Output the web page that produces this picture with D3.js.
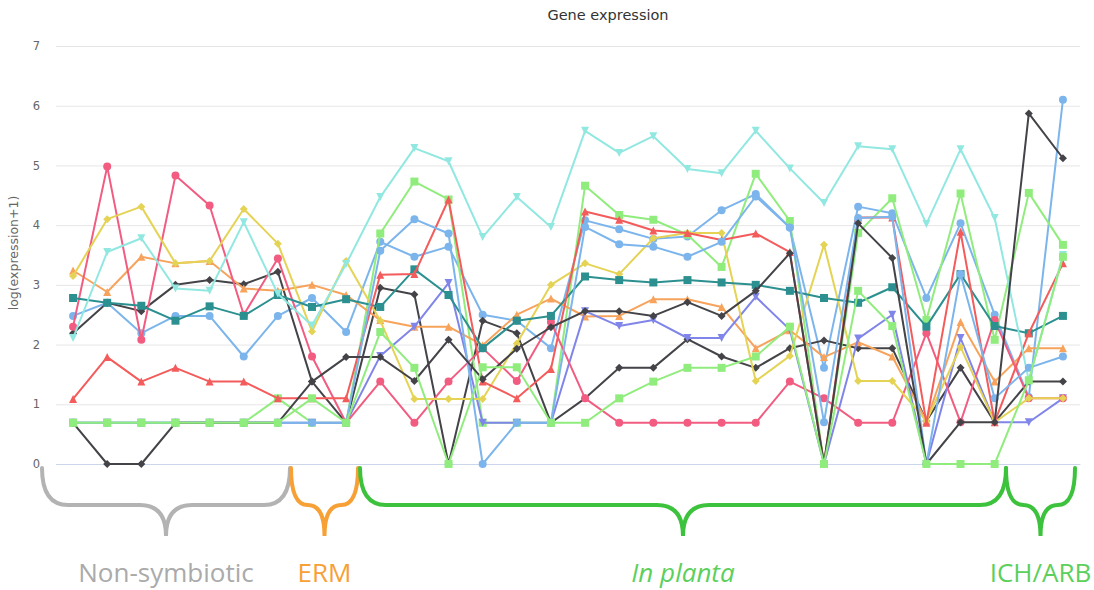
<!DOCTYPE html>
<html><head><meta charset="utf-8">
<script src="https://cdn.jsdelivr.net/npm/d3@7"></script>
<style>body{margin:0;background:#fff} svg{display:block}</style>
</head><body><svg id="c" width="1094" height="590"></svg>
<script>
const categories = d3.range(1, 31).map(i => "Sample " + i);
const yTicks = [0, 1, 2, 3, 4, 5, 6, 7];

const blue1  = [2.48,2.70,2.19,2.48,2.48,1.80,2.48,2.78,2.21,3.72,3.47,3.64,2.50,2.40,1.94,4.08,3.93,3.77,3.81,4.25,4.52,3.96,1.61,4.31,4.20,2.78,4.03,2.50,1.12,6.10];
const black1 = [2.19,2.70,2.56,3.00,3.08,3.01,3.22,1.38,0.69,2.95,2.84,0.00,2.40,2.19,0.69,1.10,1.61,1.61,2.09,1.80,1.61,1.94,2.07,1.94,1.94,0.72,1.61,0.70,1.38,1.38];
const green1 = [0.69,0.69,0.69,0.69,0.69,0.69,1.10,0.69,0.69,3.86,4.73,4.43,0.69,0.69,0.69,4.66,4.17,4.09,3.84,3.30,4.86,4.07,0.00,3.87,4.45,2.41,4.53,2.08,4.54,3.67];
const orange = [3.24,2.88,3.47,3.36,3.40,2.94,2.90,3.00,2.83,2.41,2.30,2.30,1.99,2.50,2.77,2.47,2.48,2.76,2.76,2.63,1.94,2.24,1.79,2.04,1.80,0.72,2.38,1.38,1.94,1.94];
const purple = [0.69,0.69,0.69,0.69,0.69,0.69,0.69,0.69,0.69,1.81,2.30,3.03,0.69,0.69,0.69,2.56,2.31,2.41,2.11,2.11,2.80,2.25,0.00,2.10,2.50,0.00,2.11,0.70,0.70,1.10];
const pink   = [2.30,4.98,2.08,4.83,4.33,2.50,3.44,1.80,0.69,1.38,0.69,1.38,1.94,1.39,2.38,1.10,0.69,0.69,0.69,0.69,0.69,1.38,1.10,0.69,0.69,2.19,0.70,2.41,1.10,1.10];
const yellow = [3.15,4.10,4.31,3.36,3.40,4.27,3.69,2.22,3.40,2.40,1.09,1.09,1.09,2.02,3.00,3.36,3.18,3.78,3.87,3.87,1.39,1.81,3.67,1.39,1.39,0.72,1.96,0.70,1.10,1.10];
const teal   = [2.78,2.70,2.65,2.40,2.64,2.48,2.83,2.63,2.76,2.63,3.26,2.83,1.94,2.40,2.48,3.14,3.08,3.04,3.08,3.04,3.00,2.90,2.78,2.70,2.96,2.30,3.18,2.31,2.19,2.48];
const red    = [1.09,1.79,1.38,1.61,1.38,1.38,1.10,1.10,1.10,3.17,3.18,4.43,1.38,1.10,1.59,4.23,4.09,3.91,3.87,3.75,3.86,3.55,0.00,4.13,4.13,0.69,3.89,0.70,2.19,3.36];
const cyan   = [2.11,3.55,3.78,2.94,2.90,4.05,2.85,2.32,3.35,4.47,5.29,5.07,3.80,4.47,3.97,5.58,5.21,5.49,4.94,4.87,5.58,4.95,4.37,5.32,5.27,4.02,5.27,4.12,1.40,3.50];
const blue2  = [0.69,0.69,0.69,0.69,0.69,0.69,0.69,0.69,0.69,3.57,4.10,3.86,0.00,0.69,0.69,3.97,3.68,3.64,3.47,3.72,4.48,3.96,0.70,4.12,4.14,0.00,3.18,1.10,1.61,1.80];
const black2 = [0.69,0.00,0.00,0.69,0.69,0.69,0.69,1.38,1.79,1.79,1.39,2.08,1.42,1.93,2.29,2.56,2.56,2.48,2.71,2.48,2.90,3.53,0.00,4.03,3.45,0.00,0.70,0.70,5.87,5.12];
const green2 = [0.69,0.69,0.69,0.69,0.69,0.69,0.69,1.10,0.69,2.21,1.61,0.00,1.62,1.62,0.69,0.69,1.10,1.38,1.61,1.61,1.80,2.30,0.00,2.90,2.31,0.00,0.00,0.00,1.40,3.47];

const groupNames = ["Non-symbiotic", "ERM", "In planta", "ICH/ARB"];

const series = [
  {data: blue1,  color: "#7cb5ec", symbol: "circle"},
  {data: black1, color: "#434348", symbol: "diamond"},
  {data: green1, color: "#90ed7d", symbol: "square"},
  {data: orange, color: "#f7a35c", symbol: "triangle"},
  {data: purple, color: "#8085e9", symbol: "triangle-down"},
  {data: pink,   color: "#f15c80", symbol: "circle"},
  {data: yellow, color: "#e4d354", symbol: "diamond"},
  {data: teal,   color: "#2b908f", symbol: "square"},
  {data: red,    color: "#f45b5b", symbol: "triangle"},
  {data: cyan,   color: "#91e8e1", symbol: "triangle-down"},
  {data: blue2,  color: "#7cb5ec", symbol: "circle"},
  {data: black2, color: "#434348", symbol: "diamond"},
  {data: green2, color: "#90ed7d", symbol: "square"}
];

const svg = d3.select("#c");
const pLeft = 56, pRight = 1080, pTop = 46, pBottom = 464;

const x = d3.scaleBand().domain(categories).range([pLeft, pRight]);
const xc = c => x(c) + x.bandwidth() / 2;
const y = d3.scaleLinear().domain([0, 7]).range([pBottom, pTop]);

// title
svg.append("text").attr("x", 608).attr("y", 20).attr("text-anchor", "middle")
  .style("font-family", "DejaVu Sans, sans-serif").style("font-size", "14.5px").attr("fill", "#333")
  .text("Gene expression");

// grid
const yAxis = d3.axisLeft(y).tickValues(yTicks).tickSize(-(pRight - pLeft)).tickPadding(16).tickFormat(d3.format("d"));
const gy = svg.append("g").attr("transform", `translate(${pLeft},0)`).call(yAxis);
gy.select(".domain").remove();
gy.selectAll(".tick line").attr("stroke", "#e6e6e6");
gy.selectAll(".tick text").attr("fill", "#666").style("font-family", "DejaVu Sans, sans-serif").style("font-size", "11.5px");
gy.selectAll(".tick").filter(d => d === 0).select("line").attr("stroke", "#ccd6eb");

// x axis (no labels)
const xAxis = d3.axisBottom(x).tickSize(0).tickFormat("");
const gx = svg.append("g").attr("transform", `translate(0,${pBottom})`).call(xAxis);
gx.select(".domain").attr("stroke", "#ccd6eb");

// y title
svg.append("text").attr("transform", `translate(18,253) rotate(-90)`).attr("text-anchor", "middle")
  .style("font-family", "DejaVu Sans, sans-serif").style("font-size", "12.5px").attr("fill", "#666")
  .text("log(expression+1)");

const sym = {
  "circle": (cx, cy) => `M${cx-4},${cy}a4,4 0 1,0 8,0a4,4 0 1,0 -8,0Z`,
  "square": (cx, cy) => `M${cx-4},${cy-4}h8v8h-8Z`,
  "diamond": (cx, cy) => `M${cx},${cy-4}L${cx+4},${cy}L${cx},${cy+4}L${cx-4},${cy}Z`,
  "triangle": (cx, cy) => `M${cx},${cy-4}L${cx+4},${cy+4}L${cx-4},${cy+4}Z`,
  "triangle-down": (cx, cy) => `M${cx-4},${cy-4}L${cx+4},${cy-4}L${cx},${cy+4}Z`
};

const line = d3.line().x((d, i) => xc(categories[i])).y(d => y(d));
series.forEach(s => {
  const g = svg.append("g");
  g.append("path").attr("d", line(s.data)).attr("fill", "none").attr("stroke", s.color)
    .attr("stroke-width", 2).attr("stroke-linejoin", "round").attr("stroke-linecap", "round");
  g.selectAll("path.m").data(s.data).enter().append("path").attr("class", "m")
    .attr("d", (d, i) => sym[s.symbol](xc(categories[i]), y(d))).attr("fill", s.color);
});

// braces
function brace(x1, x2, yTop, yMid, yTip, r) {
  const xm = (x1 + x2) / 2;
  return `M${x1},${yTop} Q${x1},${yMid} ${x1 + r},${yMid} L${xm - r},${yMid} Q${xm},${yMid} ${xm},${yTip} ` +
         `Q${xm},${yMid} ${xm + r},${yMid} L${x2 - r},${yMid} Q${x2},${yMid} ${x2},${yTop}`;
}
const braces = [
  {x1: 42, x2: 290, color: "#b3b3b3", label: groupNames[0], tc: "#aaaaaa", italic: false},
  {x1: 291, x2: 358, color: "#f7a035", label: groupNames[1], tc: "#f7a035", italic: false},
  {x1: 360, x2: 1006, color: "#3cc23c", label: groupNames[2], tc: "#5ccf5c", italic: true},
  {x1: 1006, x2: 1075, color: "#3cc23c", label: groupNames[3], tc: "#5ccf5c", italic: false}
];
braces.forEach(b => {
  const r = Math.min(26, (b.x2 - b.x1) / 4);
  svg.append("path").attr("d", brace(b.x1, b.x2, 468, 505, 536, r))
    .attr("fill", "none").attr("stroke", b.color).attr("stroke-width", 4).attr("stroke-linecap", "round");
  svg.append("text").attr("x", (b.x1 + b.x2) / 2).attr("y", 582).attr("text-anchor", "middle")
    .style("font-family", "Open Sans, sans-serif").style("font-size", "26px")
    .style("font-style", b.italic ? "italic" : "normal").attr("fill", b.tc).text(b.label);
});
</script></body></html>
